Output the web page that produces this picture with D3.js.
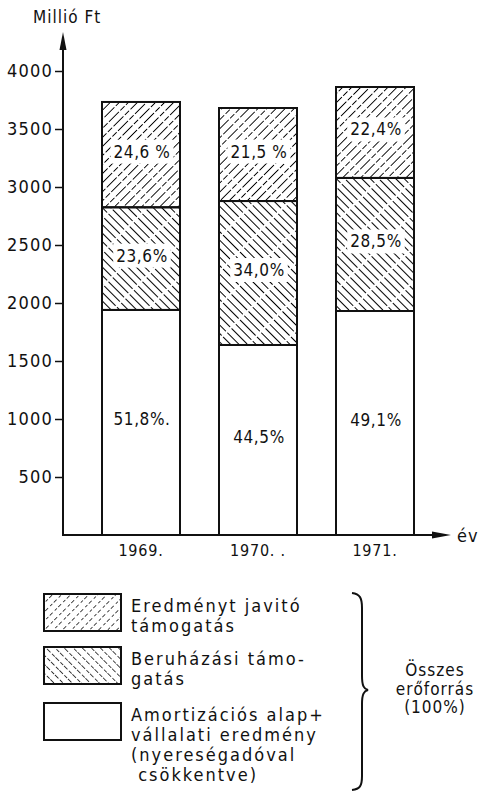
<!DOCTYPE html>
<html>
<head>
<meta charset="utf-8">
<script src="https://cdn.jsdelivr.net/npm/d3@7"></script>
<style>
  body { margin: 0; background: #fff; }
  svg text { font-family: 'DejaVu Sans Condensed', 'DejaVu Sans', sans-serif; fill: #111; }
</style>
</head>
<body>
<div id="chart"></div>
<script>
// Vállalati erőforrások, 1969-1971 (Millió Ft)
const years = ['1969.', '1970. .', '1971.'];
const amortizacio = [1940, 1638, 1931];     // Amortizációs alap + vállalati eredmény
const beruhazasi = [885, 1241, 1147];       // Beruházási támogatás
const eredmenyJavito = [908, 802, 784];     // Eredményt javító támogatás
const amortPct = ['51,8%.', '44,5%', '49,1%'];
const beruhPct = ['23,6%', '34,0%', '28,5%'];
const javitoPct = ['24,6 %', '21,5 %', '22,4%'];
const yTicks = [500, 1000, 1500, 2000, 2500, 3000, 3500, 4000];

const width = 492, height = 792;
const svg = d3.select('#chart').append('svg')
    .attr('width', width)
    .attr('height', height);

const defs = svg.append('defs');

function hatch(id, angle, gap, dash, sw) {
    const p = defs.append('pattern')
        .attr('id', id)
        .attr('patternUnits', 'userSpaceOnUse')
        .attr('width', gap)
        .attr('height', 24)
        .attr('patternTransform', `rotate(${angle})`);
    p.append('line')
        .attr('x1', gap / 2).attr('y1', 0)
        .attr('x2', gap / 2).attr('y2', 24)
        .attr('stroke', '#000')
        .attr('stroke-width', sw)
        .attr('stroke-dasharray', dash)
        .attr('shape-rendering', 'crispEdges');
}
hatch('hatchUp', 45, 6.4, '9,2,6,2,5,0', 1);
hatch('hatchDown', -45, 6.0, '10,1.5,12,0.5', 1);
hatch('hatchUpLight', 45, 6.4, '4,2,3,3', 0.8);
hatch('hatchDownLight', -45, 6.4, '5,2,4,1', 0.8);

const x0 = 63, yBase = 535;

const x = d3.scaleBand()
    .domain(years)
    .range([82.5, 433.5])
    .paddingInner(1 / 3)
    .paddingOuter(1 / 6);

const y = d3.scaleLinear()
    .domain([0, 4000])
    .range([yBase, 71]);

// stacked data
const rows = years.map((yr, i) => ({
    year: yr,
    amort: amortizacio[i],
    beruh: beruhazasi[i],
    javito: eredmenyJavito[i]
}));
const keys = ['amort', 'beruh', 'javito'];
const fills = { amort: '#fff', beruh: 'url(#hatchDown)', javito: 'url(#hatchUp)' };
const pctText = { amort: amortPct, beruh: beruhPct, javito: javitoPct };
const stack = d3.stack().keys(keys)(rows);

const layers = svg.append('g').selectAll('g')
    .data(stack)
    .enter().append('g');

layers.selectAll('rect.seg')
    .data(d => d.map(v => Object.assign(v, { key: d.key })))
    .enter().append('rect')
    .attr('x', d => x(d.data.year))
    .attr('y', d => y(d[1]))
    .attr('width', x.bandwidth())
    .attr('height', d => y(d[0]) - y(d[1]))
    .attr('fill', d => fills[d.key])
    .attr('stroke', '#111')
    .attr('stroke-width', 2);

// percentage labels with white knock-out
const labels = svg.append('g');
stack.forEach(layer => {
    layer.forEach((d, i) => {
        const cx = x(d.data.year) + x.bandwidth() / 2 + 1;
        const cy = (y(d[0]) + y(d[1])) / 2 - 3;
        const t = labels.append('text')
            .attr('x', cx)
            .attr('y', cy)
            .attr('text-anchor', 'middle')
            .attr('dominant-baseline', 'central')
            .attr('font-size', 17)
            .attr('letter-spacing', 0.6)
            .text(pctText[layer.key][i]);
        if (layer.key !== 'amort') {
            const bb = t.node().getBBox();
            labels.insert('rect', 'text')
                .attr('x', bb.x - 3).attr('y', bb.y - 2)
                .attr('width', bb.width + 6).attr('height', bb.height + 4)
                .attr('fill', '#fff');
        }
    });
});

// y axis
const yAxis = svg.append('g')
    .attr('transform', `translate(${x0},0)`)
    .call(d3.axisLeft(y).tickValues(yTicks).tickSize(8).tickPadding(2).tickFormat(d3.format('d')));
yAxis.select('.domain').remove();
yAxis.selectAll('.tick line').attr('stroke', '#111').attr('stroke-width', 1.5);
yAxis.selectAll('.tick text')
    .attr('font-size', 18)
    .attr('letter-spacing', 1.2)
    .attr('fill', '#111');

svg.append('line')
    .attr('x1', x0).attr('y1', yBase + 1)
    .attr('x2', x0).attr('y2', 40)
    .attr('stroke', '#111').attr('stroke-width', 2);
svg.append('path')
    .attr('d', `M${x0 - 3.5},${50} L${x0},${32} L${x0 + 3.5},${50} Z`)
    .attr('fill', '#111');

// x axis
svg.append('line')
    .attr('x1', x0).attr('y1', yBase)
    .attr('x2', 440).attr('y2', yBase)
    .attr('stroke', '#111').attr('stroke-width', 2);
svg.append('path')
    .attr('d', `M432,${yBase - 3.5} L451,${yBase} L432,${yBase + 3.5} Z`)
    .attr('fill', '#111');

const xAxis = svg.append('g')
    .attr('transform', `translate(0,${yBase})`)
    .call(d3.axisBottom(x).tickSize(0).tickPadding(10));
xAxis.select('.domain').remove();
xAxis.selectAll('.tick text')
    .attr('font-size', 16)
    .attr('letter-spacing', 0.8)
    .attr('fill', '#111');

svg.append('text')
    .attr('x', 33).attr('y', 23)
    .attr('font-size', 17)
    .attr('letter-spacing', 1)
    .text('Millió Ft');
svg.append('text')
    .attr('x', 457).attr('y', 542)
    .attr('font-size', 18)
    .attr('letter-spacing', 1)
    .text('év');

// legend
const legendItems = [
    { fill: 'url(#hatchUpLight)', y: 594, lines: ['Eredményt javitó', 'támogatás'] },
    { fill: 'url(#hatchDownLight)', y: 647, lines: ['Beruházási támo-', 'gatás'] },
    { fill: '#fff', y: 703, lines: ['Amortizációs alap+', 'vállalati eredmény', '(nyereségadóval', ' csökkentve)'] }
];
const legend = svg.append('g');
legendItems.forEach(item => {
    legend.append('rect')
        .attr('x', 44).attr('y', item.y)
        .attr('width', 77).attr('height', 37)
        .attr('fill', item.fill)
        .attr('stroke', '#111').attr('stroke-width', 2);
    const t = legend.append('text')
        .attr('x', 131).attr('y', item.y + 18)
        .attr('font-size', 18)
        .attr('letter-spacing', 2)
        .attr('xml:space', 'preserve');
    item.lines.forEach((ln, k) => {
        t.append('tspan')
            .attr('x', 131)
            .attr('dy', k === 0 ? 0 : 20)
            .text(ln);
    });
});

// brace
svg.append('path')
    .attr('d', 'M352,593 C360,594 362,598 362,608 L362,676 C362,686 364,689 368,690 C364,691 362,694 362,704 L362,776 C362,786 360,789 352,790')
    .attr('fill', 'none')
    .attr('stroke', '#111')
    .attr('stroke-width', 2);

const total = svg.append('text')
    .attr('text-anchor', 'middle')
    .attr('font-size', 17)
    .attr('letter-spacing', 1);
['Összes', 'erőforrás', '(100%)'].forEach((ln, k) => {
    total.append('tspan')
        .attr('x', 435)
        .attr('y', 676 + k * 18.5)
        .text(ln);
});
</script>
</body>
</html>
